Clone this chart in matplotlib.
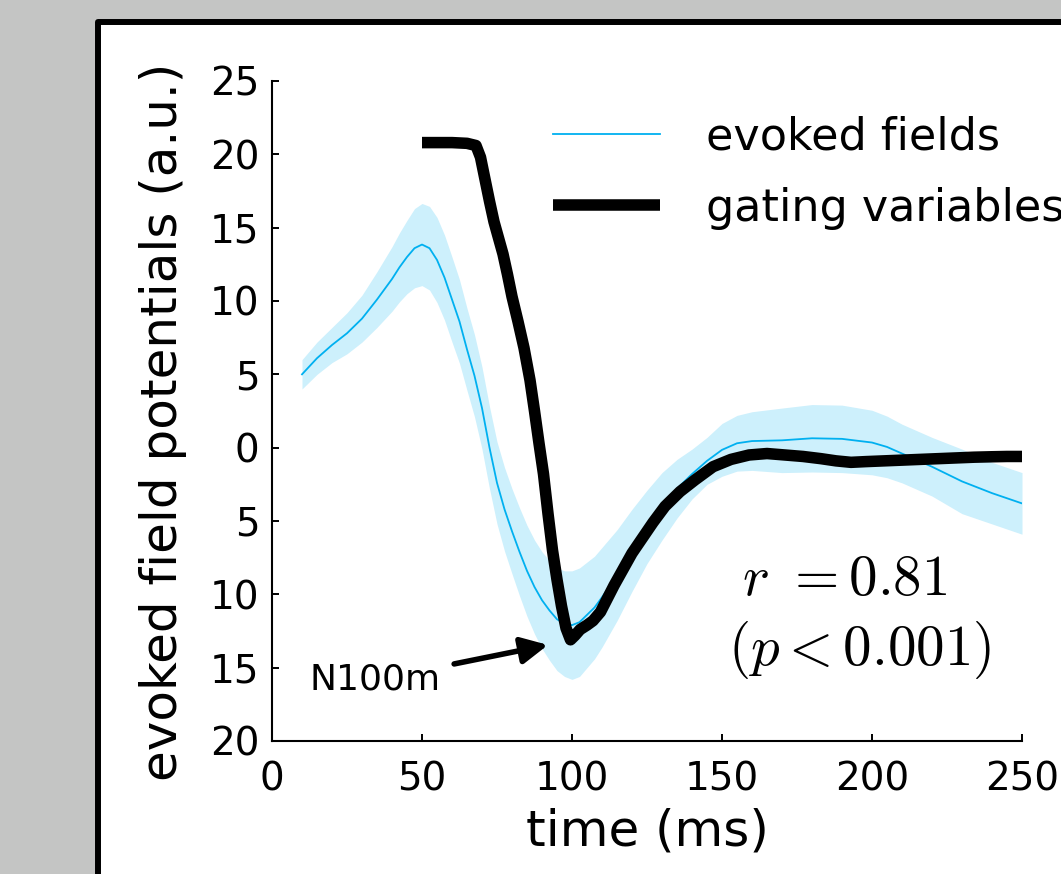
import matplotlib
matplotlib.use('Agg')
import matplotlib.pyplot as plt
from matplotlib.patches import Rectangle
import numpy as np

# evoked fields (mean and spread)
fields_t = [10, 15, 20, 25, 30, 35, 40,
            42.5, 45, 47.5, 50, 52.5, 55, 57.5, 60, 62.5, 65, 67.5, 70, 72.5, 75,
            77.5, 80, 82.5, 85, 87.5, 90, 92.5, 95, 97.5, 100, 102.5, 105, 107.5, 110,
            115, 120, 125, 130, 135, 140, 145, 150, 155, 160,
            170, 180, 190, 200, 205, 210, 215, 220, 230, 240, 250]
fields_mean = [5.0, 6.1, 7.0, 7.8, 8.8, 10.1, 11.5,
               12.3, 13.0, 13.6, 13.85, 13.6, 12.8, 11.6, 10.1, 8.6, 6.7, 4.9, 2.7,
               0.0, -2.4, -4.2, -5.7, -7.1, -8.4, -9.5, -10.4, -11.1, -11.7, -12.0,
               -12.1, -11.9, -11.4, -10.9, -10.2,
               -8.7, -7.0, -5.4, -4.0, -2.8, -1.8, -0.9, -0.15, 0.3, 0.45,
               0.5, 0.64, 0.6, 0.35, 0.05, -0.4, -0.85, -1.3, -2.3, -3.1, -3.8]
fields_sd = [1.0, 1.1, 1.2, 1.4, 1.6, 1.9, 2.2,
             2.35, 2.5, 2.7, 2.8, 2.85, 2.9, 2.9, 2.9, 2.85, 2.8, 2.8, 2.8, 2.8, 2.8,
             2.85, 2.9, 3.0, 3.1, 3.2, 3.3, 3.4, 3.5, 3.6, 3.7, 3.7, 3.6, 3.5, 3.4,
             3.1, 2.8, 2.5, 2.3, 2.0, 1.7, 1.6, 1.8, 1.9, 2.0,
             2.2, 2.3, 2.3, 2.2, 2.1, 2.0, 2.0, 2.0, 2.2, 2.1, 2.1]

# gating variables
gating_t = [50, 55, 60, 65, 68, 69.5, 71, 72.5, 74, 75.5, 77, 78.5, 80, 82, 84, 86,
            87.5, 89, 90.5, 92, 93.5, 95, 96.5, 98, 99.5, 101, 102.7, 105, 107,
            109.5, 112, 114, 117, 120, 124, 127, 131, 136, 141, 147, 153, 159, 165,
            171, 177, 183, 188, 193, 198, 204, 210, 216, 222, 228, 234, 240, 245, 250]
gating = [20.8, 20.8, 20.8, 20.75, 20.6, 19.8, 18.3, 16.8, 15.4, 14.3, 13.2, 11.8,
          10.3, 8.6, 6.8, 4.6, 2.5, 0.3, -1.8, -4.5, -7.0, -9.0, -10.8, -12.3,
          -13.1, -12.8, -12.4, -12.1, -11.8, -11.2, -10.2, -9.4, -8.3, -7.2, -6.0,
          -5.1, -4.0, -3.0, -2.2, -1.3, -0.8, -0.5, -0.4, -0.5, -0.6, -0.75, -0.9,
          -1.0, -0.95, -0.9, -0.85, -0.8, -0.75, -0.7, -0.65, -0.62, -0.6, -0.6]

xticks = [0, 50, 100, 150, 200, 250]
yticks = [-20, -15, -10, -5, 0, 5, 10, 15, 20, 25]
ytick_labels = ['20', '15', '10', '5', '0', '5', '10', '15', '20', '25']

blue = '#00b0f0'
band = '#cdf0fc'

plt.rcParams['mathtext.fontset'] = 'cm'

fig = plt.figure(figsize=(10.61, 8.74), dpi=100, facecolor='#c4c5c4')

# white panel with thick black frame (runs off the right and bottom edges)
W, H = 1061.0, 874.0
panel = Rectangle((98 / W, -0.2), 1.3, (H - 22) / H + 0.2, transform=fig.transFigure,
                  facecolor='white', edgecolor='black', linewidth=4.3,
                  joinstyle='round', zorder=0)
fig.add_artist(panel)

ax = fig.add_axes([272 / W, 1 - 741 / H, 750 / W, 660 / H])
ax.set_facecolor('white')

m = np.array(fields_mean)
s = np.array(fields_sd)
ax.fill_between(fields_t, m - s, m + s, color=band, linewidth=0, zorder=1)
ax.plot(fields_t, fields_mean, color=blue, lw=1.3, label='evoked fields', zorder=2)
ax.plot(gating_t, gating, color='black', lw=8.3, solid_capstyle='butt',
        solid_joinstyle='round', label='gating variables', zorder=3)

ax.set_xlim(0, 250)
ax.set_ylim(-20, 25)
ax.set_xticks(xticks)
ax.set_yticks(yticks)
ax.set_yticklabels(ytick_labels)

for side in ['top', 'right']:
    ax.spines[side].set_visible(False)
for side in ['left', 'bottom']:
    ax.spines[side].set_linewidth(1.5)
ax.tick_params(direction='in', length=5, width=1.4, labelsize=28)
ax.tick_params(axis='y', pad=9)
ax.tick_params(axis='x', pad=14)

ax.set_xlabel('time (ms)', fontsize=36)
ax.set_ylabel('evoked field potentials (a.u.)', fontsize=36)
ax.xaxis.set_label_coords(0.5, -0.100)
ax.yaxis.set_label_coords(-0.113, 0.483)

leg = ax.legend(loc='upper left', bbox_to_anchor=(553 / W, 1 - 116 / H),
                bbox_transform=fig.transFigure, frameon=False, fontsize=32,
                handlelength=2.4, handletextpad=1.05, labelspacing=0.62,
                borderpad=0, borderaxespad=0)
leg.set_clip_on(False)

ax.annotate('N100m', xy=(92, -13.45), xytext=(34.3, -15.84), fontsize=26,
            ha='center', va='center',
            arrowprops=dict(arrowstyle='-|>', lw=4, color='black',
                            mutation_scale=40, shrinkA=8, shrinkB=0))

ax.text(191, -9.0, r'$r\ = 0.81$', fontsize=41, ha='center', va='center')
ax.text(195.7, -13.8, r'$(p < 0.001)$', fontsize=41, ha='center', va='center')

fig.savefig('out.png', dpi=100, facecolor=fig.get_facecolor())
